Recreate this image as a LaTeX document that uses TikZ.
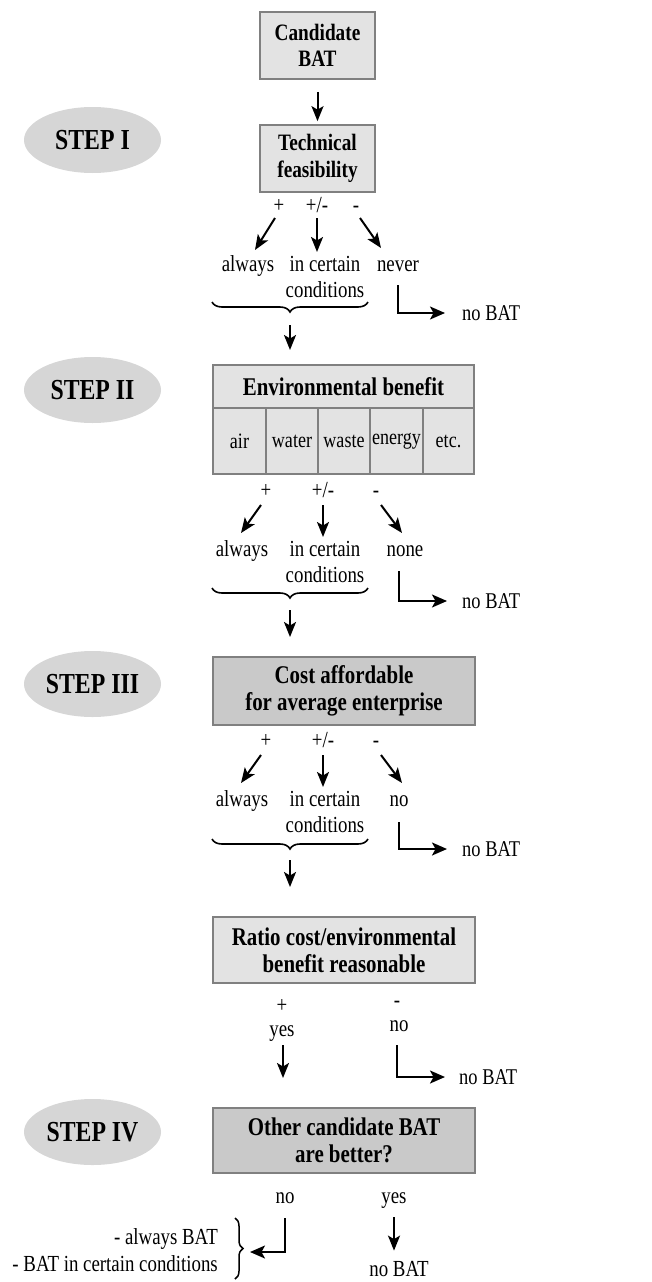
\documentclass[tikz,border=0pt]{standalone}
\usepackage{fontspec}
\setmainfont[FakeStretch=0.82]{Liberation Serif}
\usetikzlibrary{shapes.geometric,arrows.meta,decorations.pathreplacing}
\begin{document}
\begin{tikzpicture}[x=1pt,y=-1pt,
  arr/.style={-{Stealth[length=15pt,width=12pt,inset=3.5pt]}, line width=2pt},
  elb/.style={-{Stealth[length=15pt,width=13pt,inset=3.5pt]}, line width=1.8pt},
  stepell/.style={ellipse, fill=gray!32, minimum width=137pt, minimum height=66pt, inner sep=0pt, font=\bfseries\fontsize{29}{32}\selectfont},
  lbox/.style={draw=gray, line width=1.7pt, fill=gray!22, align=center, inner sep=0pt},
  dbox/.style={lbox, fill=gray!42},
  btxt/.style={font=\bfseries\fontsize{25.5}{27}\selectfont},
  stxt/.style={font=\bfseries\fontsize{23.5}{26.5}\selectfont},
  ctxt/.style={font=\fontsize{22}{24}\selectfont},
  txt/.style={font=\fontsize{23}{26}\selectfont, inner sep=0pt, anchor=base},
  nobat/.style={font=\fontsize{22.5}{24}\selectfont, inner sep=0pt, anchor=west},
  brc/.style={decorate, decoration={brace, mirror, amplitude=10pt}, line width=1.6pt},
]
\useasboundingbox (0,0) rectangle (651,1282);

% ---------- STEP I ----------
\node[stepell] (s1) at (92.5,140) {STEP I};
\node[lbox, stxt, minimum width=115pt, minimum height=67pt] (cand) at (317.5,45.5) {Candidate\\BAT};
\node[lbox, stxt, minimum width=115pt, minimum height=67pt] (tech) at (317.5,158.5) {Technical\\feasibility};
\draw[arr, shorten <=12pt, shorten >=3pt] (cand.south) -- (tech.north);

\node[txt] (p1) at (279,212) {+};
\node[txt] (pm1) at (317,212) {+/-};
\node[txt] (m1) at (356,212) {-};
\node[txt] (alw1) at (248,271) {always};
\node[txt] (inc1) at (325,271) {in certain};
\node[txt] (con1) at (325,297) {conditions};
\node[txt] (nev1) at (398,271) {never};
\path (275,218) coordinate (a1s) (255,250) coordinate (a1e)
      (317,218) coordinate (b1s) (317,252) coordinate (b1e)
      (360,218) coordinate (c1s) (381,248) coordinate (c1e);
\draw[arr] (a1s) -- (a1e);
\draw[arr] (b1s) -- (b1e);
\draw[arr] (c1s) -- (c1e);
\path (212,302) coordinate (br1a) (368,302) coordinate (br1b);
\draw[brc] (br1a) -- (br1b);
\node[nobat] (nb1) at (462,313) {no BAT};
\coordinate (e1) at (398,285);
\draw[elb, shorten >=17pt] (e1) |- (nb1.west);
\path (290,325) coordinate (d1s) (290,350) coordinate (d1e);
\draw[arr] (d1s) -- (d1e);

% ---------- STEP II ----------
\node[stepell] (s2) at (92.5,390) {STEP II};
\node[lbox, btxt, minimum width=261pt, minimum height=43pt] (envh) at (343.5,386.5) {Environmental benefit};
\node[lbox, ctxt, minimum width=53pt, minimum height=66pt] (cair) at (239.5,441) {air};
\node[lbox, ctxt, minimum width=52pt, minimum height=66pt] (cwat) at (292,441) {water};
\node[lbox, ctxt, minimum width=52pt, minimum height=66pt] (cwas) at (344,441) {waste};
\node[lbox, ctxt, minimum width=53pt, minimum height=66pt] (cene) at (396.5,441) {energy};
\node[lbox, ctxt, minimum width=51pt, minimum height=66pt] (cetc) at (448.5,441) {etc.};

\node[txt] (p2) at (266,497) {+};
\node[txt] (pm2) at (323,497) {+/-};
\node[txt] (m2) at (376,497) {-};
\node[txt] (alw2) at (242,556) {always};
\node[txt] (inc2) at (325,556) {in certain};
\node[txt] (con2) at (325,582) {conditions};
\node[txt] (non2) at (405,556) {none};
\path (261,505) coordinate (a2s) (241,533) coordinate (a2e)
      (323,505) coordinate (b2s) (323,537) coordinate (b2e)
      (381,505) coordinate (c2s) (402,533) coordinate (c2e);
\draw[arr] (a2s) -- (a2e);
\draw[arr] (b2s) -- (b2e);
\draw[arr] (c2s) -- (c2e);
\path (212,588) coordinate (br2a) (368,588) coordinate (br2b);
\draw[brc] (br2a) -- (br2b);
\node[nobat] (nb2) at (462,601) {no BAT};
\coordinate (e2) at (399,571);
\draw[elb, shorten >=15pt] (e2) |- (nb2.west);
\path (290,610) coordinate (d2s) (290,637) coordinate (d2e);
\draw[arr] (d2s) -- (d2e);

% ---------- STEP III ----------
\node[stepell] (s3) at (92.5,684) {STEP III};
\node[dbox, btxt, minimum width=262pt, minimum height=68pt] (cost) at (344,691) {Cost affordable\\for average enterprise};

\node[txt] (p3) at (266,747) {+};
\node[txt] (pm3) at (323,747) {+/-};
\node[txt] (m3) at (376,747) {-};
\node[txt] (alw3) at (242,806) {always};
\node[txt] (inc3) at (325,806) {in certain};
\node[txt] (con3) at (325,832) {conditions};
\node[txt] (no3) at (399,806) {no};
\path (261,755) coordinate (a3s) (241,783) coordinate (a3e)
      (323,755) coordinate (b3s) (323,787) coordinate (b3e)
      (381,755) coordinate (c3s) (402,783) coordinate (c3e);
\draw[arr] (a3s) -- (a3e);
\draw[arr] (b3s) -- (b3e);
\draw[arr] (c3s) -- (c3e);
\path (212,839) coordinate (br3a) (368,839) coordinate (br3b);
\draw[brc] (br3a) -- (br3b);
\node[nobat] (nb3) at (462,849) {no BAT};
\coordinate (e3) at (399,822);
\draw[elb, shorten >=15pt] (e3) |- (nb3.west);
\path (290,860) coordinate (d3s) (290,887) coordinate (d3e);
\draw[arr] (d3s) -- (d3e);

\node[lbox, btxt, minimum width=262pt, minimum height=66pt] (ratio) at (344,950) {Ratio cost/environmental\\benefit reasonable};

\node[txt] (p4) at (282,1012) {+};
\node[txt] (yes4) at (282,1036) {yes};
\node[txt] (m4) at (397,1007) {-};
\node[txt] (no4) at (399,1031) {no};
\path (283,1045) coordinate (a4s) (283,1078) coordinate (a4e);
\draw[arr] (a4s) -- (a4e);
\node[nobat] (nb4) at (459,1077) {no BAT};
\coordinate (e4) at (397,1045);
\draw[elb, shorten >=14pt] (e4) |- (nb4.west);

% ---------- STEP IV ----------
\node[stepell] (s4) at (92.5,1132) {STEP IV};
\node[dbox, btxt, minimum width=262pt, minimum height=65pt] (other) at (344,1140.5) {Other candidate BAT\\are better?};

\node[txt] (no5) at (285,1203) {no};
\node[txt] (yes5) at (394,1203) {yes};
\node[txt, anchor=base east] (res1) at (218,1244) {- always BAT};
\node[txt, anchor=base east] (res2) at (218,1271) {- BAT in certain conditions};
\path (235,1218) coordinate (br5a) (235,1279) coordinate (br5b);
\draw[decorate, decoration={brace, amplitude=8pt}, line width=1.5pt] (br5a) -- (br5b);
\coordinate (e5s) at (285,1218);
\coordinate (e5e) at (250,1252);
\draw[elb] (e5s) |- (e5e);
\node[txt] (nb5) at (399,1276) {no BAT};
\path (394,1217) coordinate (y5s);
\draw[arr, shorten >=10pt] (y5s) -- (y5s |- nb5.north);

\end{tikzpicture}
\end{document}
